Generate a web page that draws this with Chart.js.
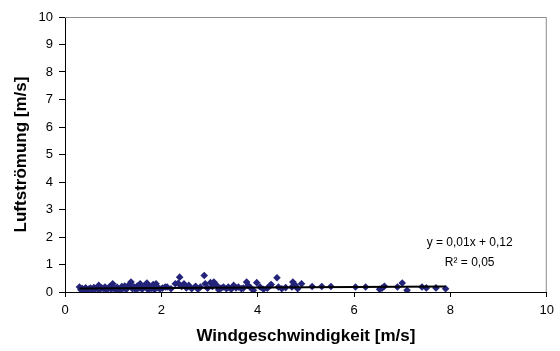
<!DOCTYPE html>
<html>
<head>
<meta charset="utf-8">
<script src="https://cdn.jsdelivr.net/npm/chart.js@4"></script>
<style>
  html, body { margin: 0; padding: 0; background: #fff; }
  #wrap { width: 560px; height: 351px; }
</style>
</head>
<body>
<div id="wrap"><canvas id="chart" width="560" height="351"></canvas></div>
<script>
/* Luftströmung vs. Windgeschwindigkeit — scatter + linear trend */

const windX = [
    0.30, 0.33, 0.36, 0.40, 0.43, 0.47, 0.50, 0.53, 0.57, 0.60, 0.63, 0.67, 0.70, 0.72, 0.76, 0.80,
    0.83, 0.86, 0.90, 0.93, 0.96, 0.99, 1.02, 1.05, 1.08, 1.11, 1.14, 1.18, 1.21, 1.24, 1.27, 1.30,
    1.33, 1.37, 1.40, 1.43, 1.47, 1.50, 1.53, 1.56, 1.60, 1.63, 1.66, 1.70, 1.73, 1.76, 1.80, 1.83,
    1.86, 1.89, 1.93, 1.97, 2.02, 2.08,
    2.12, 2.20, 2.29, 2.35, 2.38, 2.42, 2.47, 2.52, 2.57, 2.63, 2.71, 2.76, 2.81, 2.89, 2.91, 2.96,
    3.02, 3.06, 3.09, 3.15, 3.19, 3.24, 3.29, 3.35, 3.39, 3.45, 3.50, 3.55, 3.60, 3.66, 3.70, 3.77,
    3.80, 3.85, 3.91, 3.98, 4.05, 4.12, 4.20, 4.26, 4.28,
    4.40, 4.43, 4.50, 4.58, 4.71, 4.73, 4.78, 4.83, 4.91, 5.13, 5.33, 5.52, 6.03, 6.24, 6.53, 6.58,
    6.63, 6.90, 7.00, 7.10, 7.41, 7.50, 7.70, 7.90,
];
const luftY = [
    0.18, 0.08, 0.13, 0.10, 0.15, 0.07, 0.12, 0.14, 0.09, 0.16, 0.11, 0.13, 0.24, 0.08, 0.15, 0.12,
    0.18, 0.06, 0.14, 0.20, 0.10, 0.30, 0.13, 0.09, 0.17, 0.11, 0.05, 0.20, 0.14, 0.22, 0.09, 0.18,
    0.26, 0.36, 0.12, 0.19, 0.08, 0.22, 0.14, 0.30, 0.10, 0.17, 0.24, 0.33, 0.07, 0.20, 0.13, 0.27,
    0.09, 0.30, 0.16, 0.11, 0.14, 0.18,
    0.18, 0.12, 0.30, 0.32, 0.54, 0.20, 0.30, 0.15, 0.24, 0.12, 0.21, 0.10, 0.18, 0.60, 0.30, 0.14,
    0.34, 0.20, 0.36, 0.24, 0.08, 0.14, 0.18, 0.12, 0.18, 0.10, 0.24, 0.15, 0.18, 0.12, 0.14, 0.36,
    0.24, 0.16, 0.06, 0.34, 0.18, 0.10, 0.14, 0.24, 0.27,
    0.52, 0.18, 0.12, 0.16, 0.18, 0.36, 0.25, 0.12, 0.30, 0.20, 0.20, 0.20, 0.18, 0.18, 0.10, 0.14,
    0.21, 0.18, 0.33, 0.06, 0.18, 0.15, 0.15, 0.12,
];

// trend line end points (Excel linear fit)
const trendX = [0.30, 7.90];
const trendY = [0.123, 0.199];

const xTicks = [0, 2, 4, 6, 8, 10];
const yTicks = [0, 1, 2, 3, 4, 5, 6, 7, 8, 9, 10];

const eqLine1 = "y = 0,01x + 0,12";
const eqLine2 = "R² = 0,05";

const FONT = "'Liberation Sans', Arial, sans-serif";
const NAVY = "#23237a";

Chart.defaults.font.family = FONT;
Chart.defaults.color = "#000";

// gray plot-area frame (top/right), Excel style
const frame = {
    id: "frame",
    beforeDatasetsDraw(chart) {
        const { ctx, chartArea: a } = chart;
        ctx.save();
        ctx.strokeStyle = "#8c8c8c";
        ctx.lineWidth = 1;
        ctx.beginPath();
        ctx.moveTo(a.left, a.top + 0.5);
        ctx.lineTo(a.right - 0.5, a.top + 0.5);
        ctx.lineTo(a.right - 0.5, a.bottom);
        ctx.stroke();
        ctx.restore();
    },
    afterDraw(chart) {
        const { ctx, scales } = chart;
        const x = scales.x.getPixelForValue(8.4);
        ctx.save();
        ctx.fillStyle = "#000";
        ctx.font = "12px " + FONT;
        ctx.textAlign = "center";
        ctx.textBaseline = "middle";
        ctx.fillText(eqLine1, x, scales.y.getPixelForValue(1.8));
        ctx.fillText(eqLine2, x, scales.y.getPixelForValue(1.08));
        ctx.restore();
    },
};

new Chart(document.getElementById("chart"), {
    type: "scatter",
    data: {
        datasets: [
            {
                data: windX.map((x, i) => ({ x, y: luftY[i] })),
                pointStyle: "rectRot",
                pointRadius: 3.8,
                backgroundColor: NAVY,
                borderColor: NAVY,
                borderWidth: 0,
                order: 2,
            },
            {
                type: "line",
                data: trendX.map((x, i) => ({ x, y: trendY[i] })),
                borderColor: "#000",
                borderWidth: 2,
                pointRadius: 0,
                fill: false,
                order: 1,
            },
        ],
    },
    options: {
        responsive: false,
        animation: false,
        layout: { padding: { top: 17, right: 9, left: 11, bottom: 0 } },
        scales: {
            x: {
                type: "linear",
                min: 0, max: 10,
                afterBuildTicks: (s) => { s.ticks = xTicks.map((v) => ({ value: v })); },
                afterFit: (s) => { s.height = 59; },
                border: { display: true, color: "#000", width: 1 },
                grid: { drawOnChartArea: false, drawTicks: true, tickLength: 5, color: "#000" },
                ticks: { padding: 6, font: { size: 13 }, color: "#000" },
                title: {
                    display: true,
                    text: "Windgeschwindigkeit [m/s]",
                    font: { size: 17, weight: "bold" },
                    padding: { top: 0, bottom: 4 },
                },
            },
            y: {
                min: 0, max: 10,
                afterBuildTicks: (s) => { s.ticks = yTicks.map((v) => ({ value: v })); },
                afterFit: (s) => { s.width = 54; },
                border: { display: true, color: "#000", width: 1 },
                grid: { drawOnChartArea: false, drawTicks: true, tickLength: 6, color: "#000" },
                ticks: { padding: 6, font: { size: 13 }, color: "#000" },
                title: {
                    display: true,
                    text: "Luftströmung [m/s]",
                    font: { size: 17, weight: "bold" },
                    padding: 0,
                },
            },
        },
        plugins: {
            legend: { display: false },
            tooltip: { enabled: false },
        },
    },
    plugins: [frame],
});
</script>
</body>
</html>
